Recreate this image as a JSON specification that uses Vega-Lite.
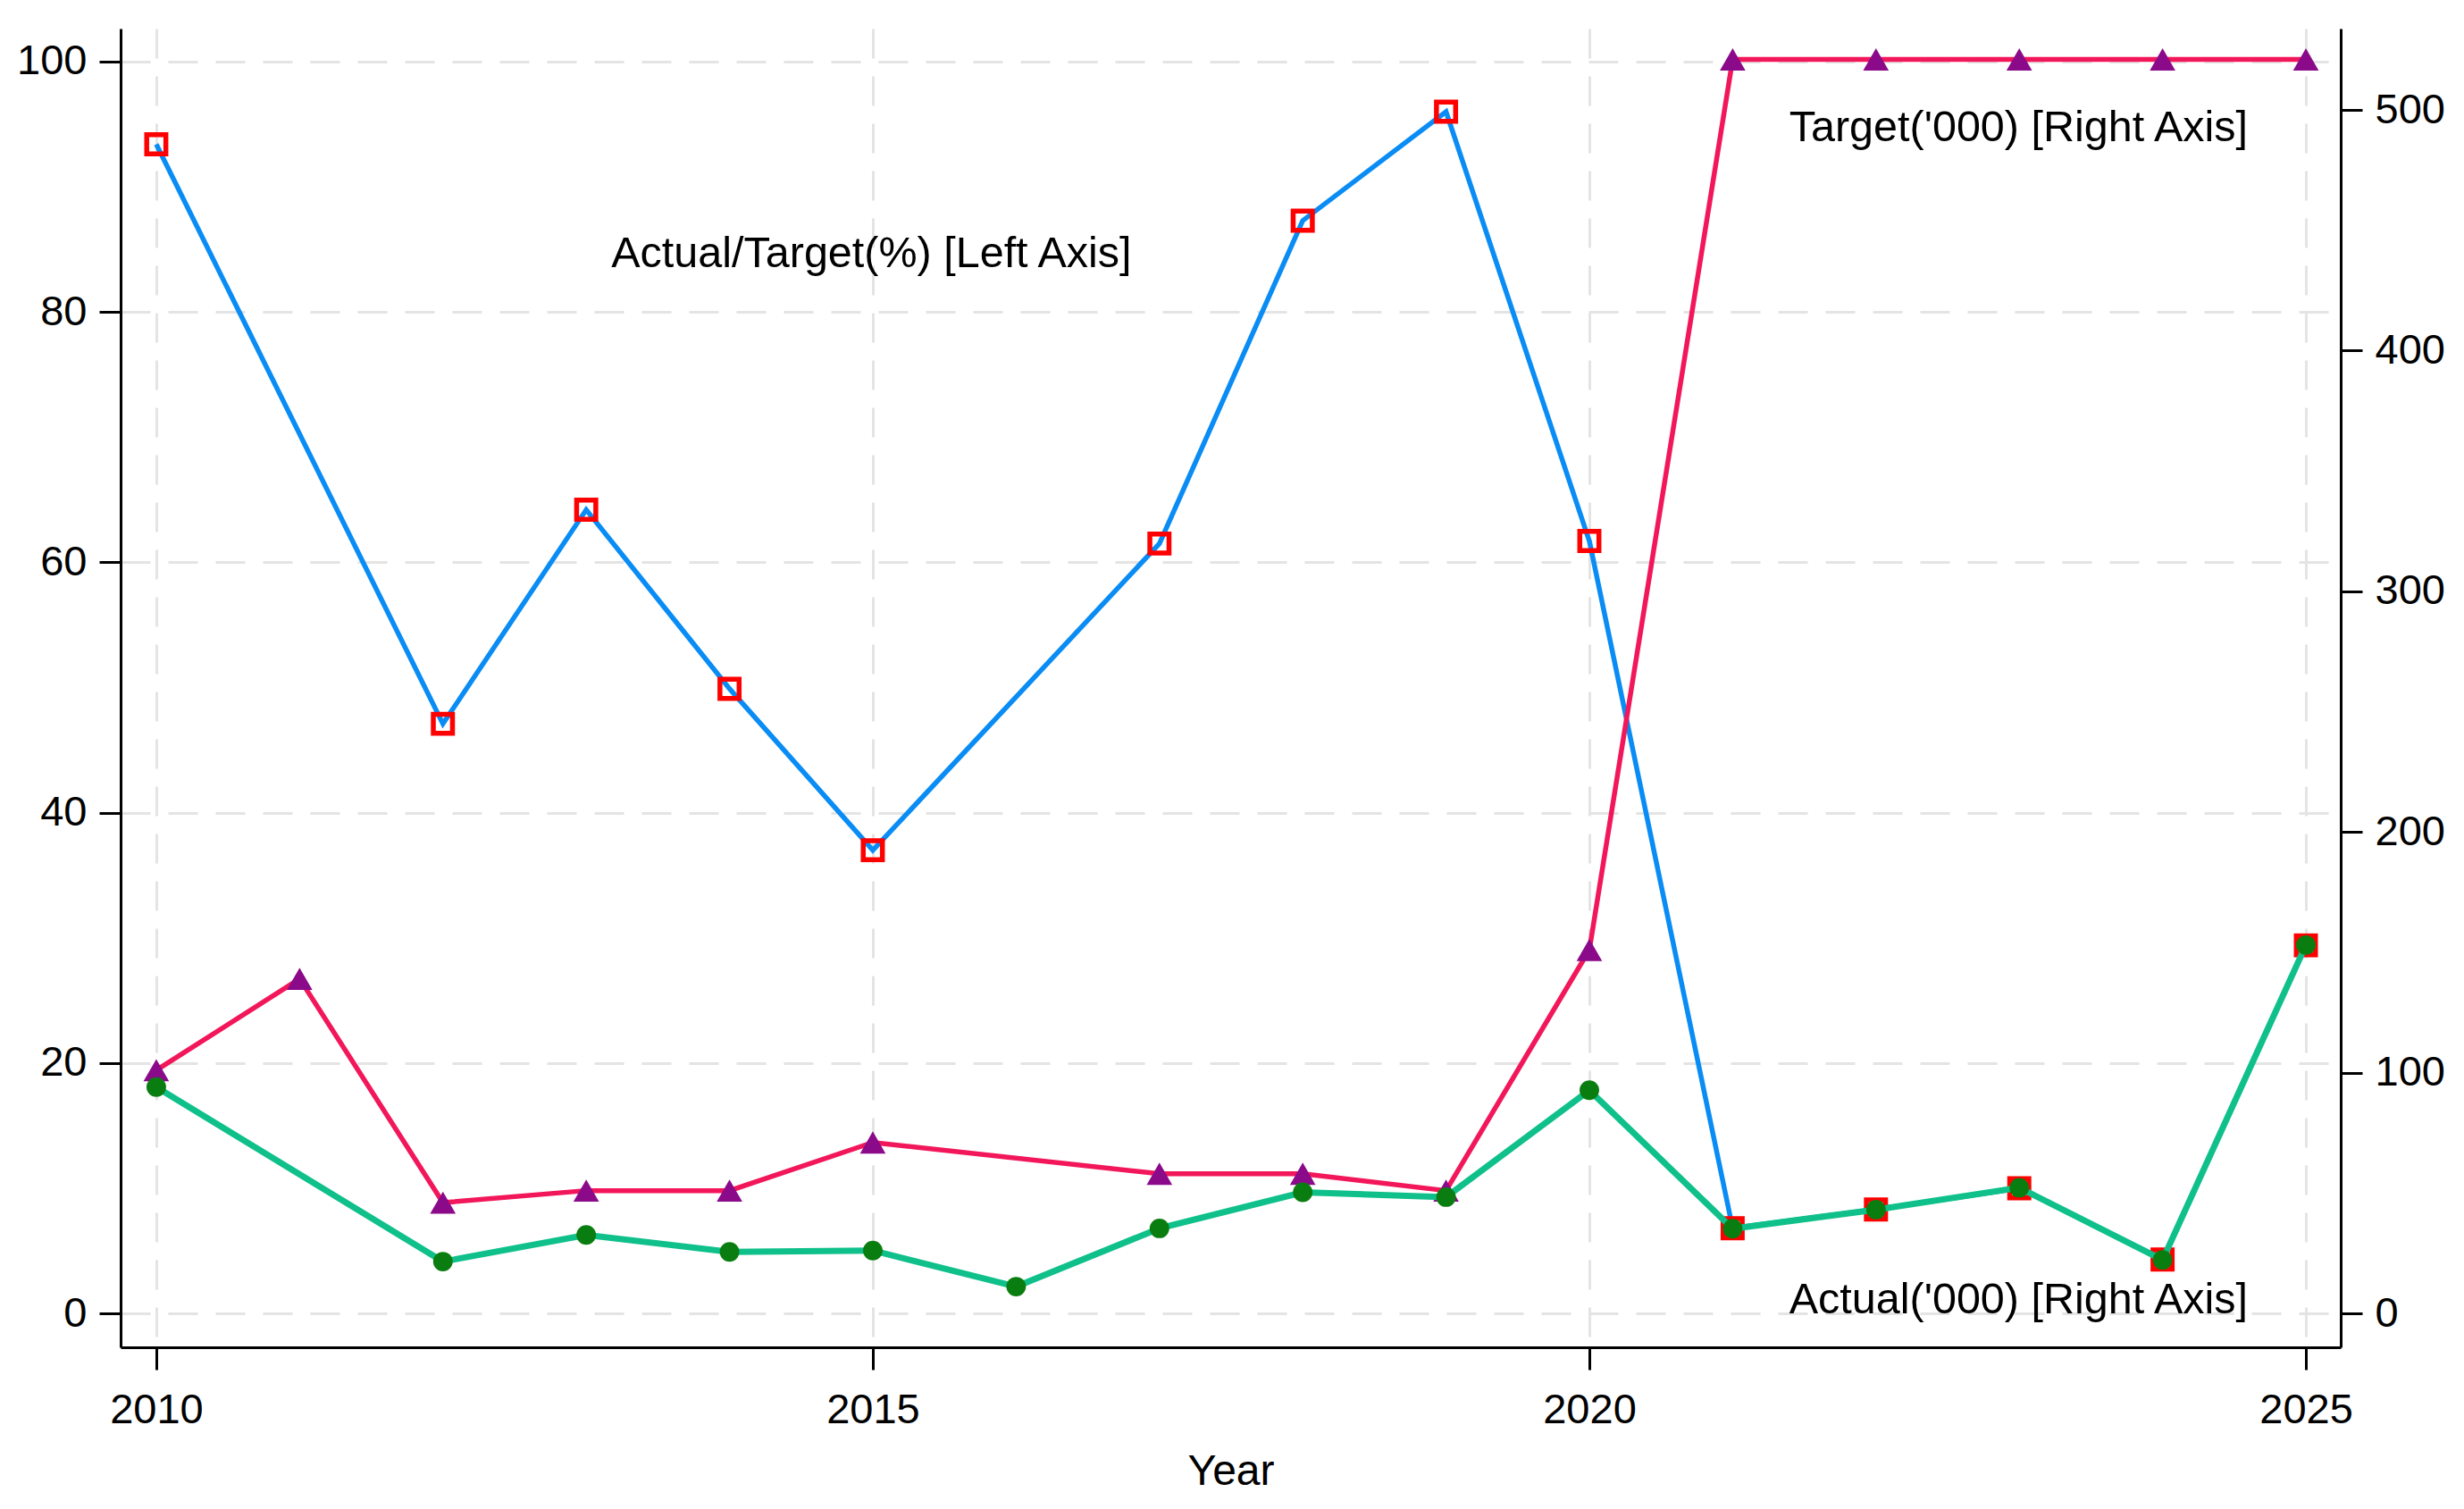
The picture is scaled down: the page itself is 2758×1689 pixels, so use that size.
{
  "$schema": "https://vega.github.io/schema/vega-lite/v6.json",
  "width": 2485,
  "height": 1476,
  "autosize": "none",
  "padding": {"left": 135, "top": 32, "right": 138, "bottom": 181},
  "background": "white",
  "config": {
    "view": {"stroke": null},
    "font": "Liberation Sans",
    "axis": {
      "domainColor": "black",
      "domainWidth": 3,
      "tickColor": "black",
      "tickWidth": 3,
      "tickSize": 24,
      "labelFont": "Liberation Sans",
      "labelFontSize": 47,
      "labelColor": "black",
      "labelPadding": 14,
      "labelFlush": false,
      "labelOverlap": false,
      "gridColor": "#e4e4e4",
      "gridDash": [33, 20],
      "gridWidth": 3,
      "titleFont": "Liberation Sans",
      "titleFontSize": 48,
      "titleFontWeight": "normal",
      "titleColor": "black"
    }
  },
  "data": {
    "values": [
      {"year": 2010, "pct": 93.4, "target": 101, "actual": 94},
      {"year": 2011, "pct": null, "target": 139, "actual": null},
      {"year": 2012, "pct": 47.1, "target": 46, "actual": 21.5},
      {"year": 2013, "pct": 64.2, "target": 51, "actual": 32.6},
      {"year": 2014, "pct": 49.9, "target": 51, "actual": 25.5},
      {"year": 2015, "pct": 37.0, "target": 71, "actual": 26.1},
      {"year": 2016, "pct": null, "target": null, "actual": 11.1},
      {"year": 2017, "pct": 61.5, "target": 58, "actual": 35.3},
      {"year": 2018, "pct": 87.3, "target": 58, "actual": 50.3},
      {"year": 2019, "pct": 96.0, "target": 51, "actual": 48.3},
      {"year": 2020, "pct": 61.7, "target": 151, "actual": 92.7},
      {"year": 2021, "pct": 6.8, "target": 521, "actual": 35.2},
      {"year": 2022, "pct": 8.3, "target": 521, "actual": 43.1},
      {"year": 2023, "pct": 10.0, "target": 521, "actual": 52.2},
      {"year": 2024, "pct": 4.3, "target": 521, "actual": 22.2},
      {"year": 2025, "pct": 29.4, "target": 521, "actual": 153}
    ]
  },
  "encoding": {
    "x": {
      "field": "year",
      "type": "quantitative",
      "scale": {"domain": [2009.751, 2025.243], "nice": false, "zero": false},
      "axis": {
        "values": [2010, 2015, 2020, 2025],
        "format": "d",
        "title": "Year",
        "grid": true,
        "tickSize": 25,
        "labelPadding": 22,
        "titlePadding": 22
      }
    }
  },
  "layer": [
    {
      "transform": [{"filter": {"field": "pct", "valid": true}}],
      "encoding": {
        "y": {
          "field": "pct",
          "type": "quantitative",
          "scale": {"domain": [-2.71, 102.64], "nice": false, "zero": false},
          "axis": {
            "orient": "left",
            "values": [0, 20, 40, 60, 80, 100],
            "title": null,
            "grid": true
          }
        }
      },
      "layer": [
        {"mark": {"type": "line", "color": "#0a8cf5", "strokeWidth": 5.5}},
        {"mark": {"type": "point", "shape": "square", "filled": false, "stroke": "#ff0000", "strokeWidth": 5.5, "size": 460, "opacity": 1}},
        {
          "transform": [{"filter": "datum.year == 2010"}],
          "mark": {"type": "text", "fontSize": 48.5, "font": "Liberation Sans", "color": "black", "align": "center", "baseline": "alphabetic"},
          "encoding": {
            "x": {"datum": 2014.99, "type": "quantitative"},
            "y": {"datum": 83.6, "type": "quantitative"},
            "text": {"value": "Actual/Target(%) [Left Axis]"}
          }
        }
      ]
    },
    {
      "layer": [
        {
          "transform": [{"filter": {"field": "target", "valid": true}}],
          "mark": {"type": "line", "color": "#f2175a", "strokeWidth": 5.5},
          "encoding": {
            "y": {"field": "target", "type": "quantitative", "scale": {"domain": [-14.1, 533.8], "nice": false, "zero": false},
                  "axis": {"orient": "right", "values": [0, 100, 200, 300, 400, 500], "title": null, "grid": false}}
          }
        },
        {
          "transform": [{"filter": {"field": "target", "valid": true}}],
          "mark": {"type": "point", "shape": "triangle-up", "filled": true, "color": "#8a0a8a", "size": 820, "opacity": 1},
          "encoding": {
            "y": {"field": "target", "type": "quantitative", "scale": {"domain": [-14.1, 533.8], "nice": false, "zero": false},
                  "axis": {"orient": "right", "values": [0, 100, 200, 300, 400, 500], "title": null, "grid": false}}
          }
        },
        {
          "transform": [{"filter": {"field": "actual", "valid": true}}],
          "mark": {"type": "line", "color": "#0fc08a", "strokeWidth": 7},
          "encoding": {
            "y": {"field": "actual", "type": "quantitative", "scale": {"domain": [-14.1, 533.8], "nice": false, "zero": false},
                  "axis": {"orient": "right", "values": [0, 100, 200, 300, 400, 500], "title": null, "grid": false}}
          }
        },
        {
          "transform": [{"filter": {"field": "actual", "valid": true}}],
          "mark": {"type": "point", "shape": "circle", "filled": true, "color": "#0a7d10", "size": 480, "opacity": 1},
          "encoding": {
            "y": {"field": "actual", "type": "quantitative", "scale": {"domain": [-14.1, 533.8], "nice": false, "zero": false},
                  "axis": {"orient": "right", "values": [0, 100, 200, 300, 400, 500], "title": null, "grid": false}}
          }
        },
        {
          "transform": [{"filter": "datum.year == 2010"}],
          "mark": {"type": "text", "fontSize": 48.5, "font": "Liberation Sans", "color": "black", "align": "right", "baseline": "alphabetic"},
          "encoding": {
            "x": {"datum": 2024.595, "type": "quantitative"},
            "y": {"datum": 487, "type": "quantitative"},
            "text": {"value": "Target('000) [Right Axis]"}
          }
        },
        {
          "transform": [{"filter": "datum.year == 2010"}],
          "mark": {"type": "text", "fontSize": 48.5, "font": "Liberation Sans", "color": "black", "align": "right", "baseline": "alphabetic"},
          "encoding": {
            "x": {"datum": 2024.595, "type": "quantitative"},
            "y": {"datum": 0, "type": "quantitative"},
            "text": {"value": "Actual('000) [Right Axis]"}
          }
        }
      ]
    }
  ],
  "resolve": {"scale": {"y": "independent"}}
}
